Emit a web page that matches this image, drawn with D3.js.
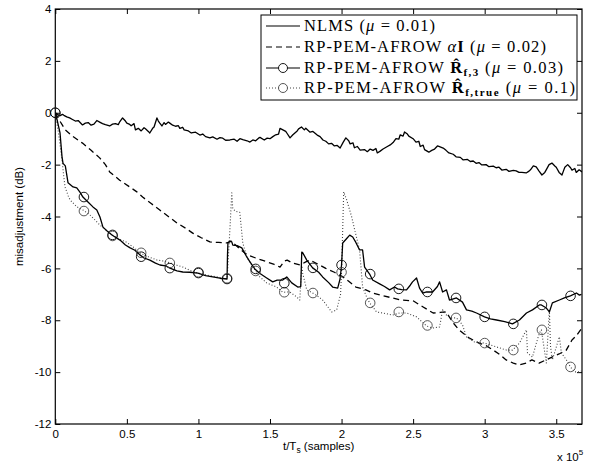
<!DOCTYPE html>
<html>
<head>
<meta charset="utf-8">
<script src="https://cdn.jsdelivr.net/npm/d3@7"></script>
<style>
  body { margin: 0; background: #fff; }
  text { fill: #000; }
</style>
</head>
<body>
<svg id="chart" width="592" height="464"></svg>
<script>
// values are in units of 1e5 samples (x) and dB (y)
const xTicks = [0, 0.5, 1, 1.5, 2, 2.5, 3, 3.5];
const yTicks = [-12, -10, -8, -6, -4, -2, 0, 2, 4];
const markerX = [0, 0.2, 0.4, 0.6, 0.8, 1.0, 1.2, 1.4, 1.6, 1.8, 2.0, 2.2, 2.4, 2.6, 2.8, 3.0, 3.2, 3.4, 3.6];

const nlms = [[0,0],[0.02,-0.08],[0.03,-0.12],[0.05,-0.06],[0.06,-0.1],[0.08,-0.16],[0.1,-0.2],[0.12,-0.26],[0.14,-0.32],[0.16,-0.3],[0.19,-0.47],[0.21,-0.4],[0.23,-0.38],[0.25,-0.48],[0.27,-0.44],[0.29,-0.3],[0.31,-0.36],[0.33,-0.42],[0.35,-0.46],[0.38,-0.51],[0.4,-0.44],[0.42,-0.42],[0.44,-0.46],[0.45,-0.35],[0.47,-0.2],[0.49,-0.32],[0.5,-0.4],[0.52,-0.45],[0.53,-0.5],[0.55,-0.42],[0.56,-0.66],[0.58,-0.6],[0.6,-0.7],[0.62,-0.58],[0.63,-0.62],[0.65,-0.72],[0.66,-0.78],[0.68,-0.6],[0.69,-0.55],[0.71,-0.2],[0.72,-0.32],[0.73,-0.4],[0.745,-0.51],[0.76,-0.38],[0.77,-0.45],[0.79,-0.36],[0.8,-0.4],[0.82,-0.48],[0.84,-0.52],[0.86,-0.5],[0.87,-0.6],[0.89,-0.56],[0.9,-0.66],[0.93,-0.7],[0.95,-0.78],[0.98,-0.75],[1.01,-0.86],[1.03,-0.82],[1.05,-0.92],[1.08,-0.97],[1.1,-0.93],[1.13,-1.02],[1.15,-0.96],[1.17,-0.98],[1.19,-1.06],[1.22,-1.05],[1.25,-1.02],[1.27,-1.1],[1.29,-1.0],[1.31,-1.04],[1.34,-1.08],[1.36,-1.13],[1.38,-1.05],[1.4,-1.08],[1.42,-0.98],[1.43,-0.95],[1.46,-1.05],[1.48,-0.98],[1.5,-1.0],[1.52,-0.92],[1.54,-0.85],[1.56,-0.82],[1.57,-0.6],[1.59,-0.66],[1.61,-0.72],[1.62,-0.8],[1.64,-0.97],[1.66,-0.85],[1.67,-0.8],[1.69,-0.7],[1.7,-0.62],[1.72,-0.55],[1.74,-0.66],[1.75,-0.6],[1.78,-0.75],[1.8,-0.72],[1.83,-0.86],[1.85,-0.92],[1.87,-1.05],[1.89,-1.1],[1.91,-1.2],[1.93,-1.18],[1.95,-1.28],[1.97,-1.26],[1.99,-1.36],[2.01,-1.15],[2.03,-0.97],[2.05,-1.08],[2.06,-1.2],[2.08,-1.16],[2.09,-1.35],[2.11,-1.3],[2.13,-1.44],[2.16,-1.42],[2.18,-1.5],[2.2,-1.4],[2.22,-1.45],[2.24,-1.38],[2.25,-1.55],[2.27,-1.48],[2.29,-1.4],[2.32,-1.3],[2.34,-1.24],[2.36,-1.15],[2.38,-1.0],[2.4,-1.02],[2.41,-0.85],[2.43,-0.9],[2.44,-0.74],[2.46,-0.82],[2.47,-0.9],[2.5,-1.0],[2.52,-1.13],[2.54,-1.1],[2.55,-1.3],[2.57,-1.25],[2.58,-1.42],[2.61,-1.52],[2.63,-1.45],[2.65,-1.4],[2.67,-1.28],[2.68,-1.3],[2.71,-1.36],[2.73,-1.45],[2.75,-1.55],[2.78,-1.6],[2.8,-1.7],[2.83,-1.72],[2.85,-1.82],[2.88,-1.8],[2.9,-1.88],[2.92,-1.86],[2.94,-1.95],[2.96,-1.92],[2.98,-2.01],[3.01,-2.0],[3.03,-2.08],[3.06,-2.06],[3.08,-2.12],[3.1,-2.1],[3.12,-2.21],[3.15,-2.18],[3.17,-2.26],[3.2,-2.22],[3.22,-2.24],[3.24,-2.3],[3.26,-2.3],[3.29,-2.32],[3.31,-2.25],[3.32,-2.2],[3.34,-2.05],[3.36,-2.09],[3.38,-2.25],[3.4,-2.4],[3.42,-2.3],[3.43,-2.2],[3.45,-2.0],[3.47,-1.94],[3.49,-2.05],[3.5,-2.1],[3.52,-2.3],[3.54,-2.4],[3.55,-2.25],[3.56,-2.1],[3.58,-2.0],[3.6,-2.12],[3.61,-2.21],[3.63,-2.15],[3.64,-2.3],[3.66,-2.2],[3.68,-2.28]];

const alphaI = [[0,0],[0.03,-0.3],[0.07,-0.66],[0.12,-0.9],[0.19,-1.17],[0.25,-1.45],[0.31,-1.74],[0.35,-2.0],[0.38,-2.28],[0.45,-2.6],[0.52,-2.86],[0.57,-3.05],[0.61,-3.25],[0.67,-3.5],[0.73,-3.75],[0.79,-4.0],[0.85,-4.25],[0.91,-4.45],[0.96,-4.64],[1.02,-4.82],[1.08,-4.98],[1.14,-5.0],[1.2,-5.02],[1.23,-4.95],[1.25,-5.05],[1.3,-5.3],[1.34,-5.48],[1.4,-5.6],[1.48,-5.75],[1.53,-5.85],[1.57,-5.95],[1.6,-5.72],[1.62,-5.68],[1.66,-5.8],[1.71,-5.87],[1.75,-5.75],[1.78,-5.68],[1.84,-5.85],[1.89,-6.0],[1.95,-6.15],[2.01,-6.33],[2.05,-6.5],[2.1,-6.72],[2.17,-6.83],[2.22,-6.95],[2.27,-7.03],[2.34,-7.12],[2.41,-7.22],[2.5,-7.25],[2.57,-7.49],[2.64,-7.72],[2.69,-7.7],[2.73,-7.68],[2.78,-8.1],[2.82,-8.37],[2.89,-8.68],[2.96,-8.88],[3.01,-8.98],[3.06,-9.15],[3.1,-9.3],[3.15,-9.53],[3.2,-9.65],[3.24,-9.72],[3.29,-9.65],[3.33,-9.53],[3.38,-9.65],[3.42,-9.55],[3.47,-9.42],[3.52,-9.3],[3.57,-9.15],[3.61,-8.76],[3.64,-8.6],[3.68,-8.3]];

const rf3 = [[0,0],[0.012,-0.26],[0.033,-0.78],[0.047,-1.7],[0.054,-1.95],[0.07,-2.05],[0.089,-2.7],[0.124,-2.86],[0.15,-2.9],[0.172,-3.06],[0.193,-3.25],[0.23,-3.45],[0.263,-3.63],[0.29,-3.75],[0.312,-4.02],[0.333,-4.41],[0.36,-4.55],[0.396,-4.71],[0.42,-4.8],[0.452,-4.91],[0.49,-5.1],[0.52,-5.2],[0.556,-5.3],[0.591,-5.48],[0.62,-5.6],[0.661,-5.68],[0.7,-5.8],[0.731,-5.87],[0.77,-5.9],[0.801,-5.99],[0.85,-6.1],[0.891,-6.14],[0.94,-6.15],[0.996,-6.18],[1.05,-6.28],[1.1,-6.33],[1.15,-6.38],[1.2,-6.41],[1.203,-5.5],[1.206,-5.02],[1.22,-4.95],[1.233,-4.98],[1.24,-5.1],[1.27,-5.12],[1.303,-5.21],[1.338,-5.56],[1.36,-5.75],[1.394,-6.02],[1.43,-6.2],[1.477,-6.37],[1.519,-6.52],[1.55,-6.45],[1.589,-6.45],[1.617,-6.33],[1.652,-6.56],[1.694,-6.72],[1.715,-6.7],[1.722,-5.37],[1.729,-5.4],[1.757,-5.68],[1.798,-5.98],[1.84,-6.15],[1.868,-6.33],[1.91,-6.55],[1.938,-6.72],[1.973,-6.76],[1.99,-6.4],[2.0,-5.87],[2.008,-5.02],[2.036,-4.85],[2.057,-4.72],[2.078,-4.79],[2.1,-5.0],[2.126,-5.29],[2.147,-5.29],[2.161,-5.95],[2.196,-6.22],[2.217,-6.45],[2.266,-6.6],[2.3,-6.7],[2.336,-6.83],[2.37,-6.72],[2.392,-6.79],[2.42,-6.82],[2.454,-6.83],[2.48,-6.65],[2.496,-6.52],[2.524,-6.37],[2.545,-6.76],[2.566,-6.95],[2.594,-6.91],[2.636,-6.91],[2.67,-6.7],[2.685,-6.52],[2.706,-6.91],[2.733,-6.83],[2.754,-7.22],[2.803,-7.14],[2.845,-7.3],[2.873,-7.6],[2.91,-7.65],[2.943,-7.72],[2.999,-7.87],[3.04,-7.95],[3.083,-7.99],[3.14,-8.05],[3.194,-8.14],[3.243,-7.99],[3.292,-7.72],[3.334,-7.6],[3.382,-7.41],[3.396,-7.41],[3.431,-7.53],[3.452,-7.68],[3.473,-7.33],[3.522,-7.22],[3.557,-7.14],[3.599,-7.06],[3.641,-6.95],[3.662,-7.03],[3.676,-7.0]];

const rfTrue = [[0,0],[0.02,-0.7],[0.035,-1.3],[0.047,-1.82],[0.06,-2.5],[0.068,-2.86],[0.09,-3.2],[0.103,-3.36],[0.151,-3.63],[0.193,-3.75],[0.242,-3.94],[0.28,-4.15],[0.312,-4.33],[0.36,-4.55],[0.396,-4.71],[0.44,-4.85],[0.5,-5.0],[0.55,-5.2],[0.591,-5.41],[0.65,-5.55],[0.71,-5.68],[0.76,-5.72],[0.801,-5.79],[0.85,-5.88],[0.891,-5.95],[0.95,-6.1],[0.996,-6.18],[1.05,-6.25],[1.1,-6.3],[1.15,-6.35],[1.2,-6.4],[1.206,-5.9],[1.22,-4.5],[1.233,-3.09],[1.24,-3.7],[1.26,-3.8],[1.289,-3.84],[1.31,-5.02],[1.338,-5.56],[1.37,-5.85],[1.394,-6.05],[1.429,-6.33],[1.477,-6.56],[1.547,-6.72],[1.589,-6.92],[1.638,-6.91],[1.687,-7.1],[1.708,-7.22],[1.722,-5.9],[1.729,-6.2],[1.757,-6.83],[1.798,-6.95],[1.84,-7.1],[1.868,-7.22],[1.931,-7.68],[1.966,-7.6],[1.993,-7.0],[2.0,-6.15],[2.015,-3.05],[2.036,-3.36],[2.071,-4.02],[2.092,-4.52],[2.126,-5.29],[2.147,-6.72],[2.175,-7.1],[2.196,-7.33],[2.245,-7.68],[2.287,-7.72],[2.357,-7.8],[2.405,-7.72],[2.454,-7.72],[2.524,-7.87],[2.594,-8.22],[2.636,-8.3],[2.685,-8.26],[2.706,-7.6],[2.733,-7.8],[2.768,-7.91],[2.803,-7.91],[2.845,-8.18],[2.873,-8.64],[2.929,-8.84],[2.999,-8.88],[3.083,-9.03],[3.152,-9.15],[3.194,-9.15],[3.243,-8.88],[3.292,-8.37],[3.299,-9.26],[3.334,-9.42],[3.36,-8.9],[3.382,-8.5],[3.396,-8.37],[3.431,-9.65],[3.452,-7.6],[3.46,-9.0],[3.473,-9.53],[3.522,-8.64],[3.536,-9.26],[3.571,-9.53],[3.599,-9.8],[3.627,-9.99],[3.662,-9.99],[3.68,-9.95]];

const rf3Markers = [0, -3.25, -4.71, -5.55, -5.99, -6.18, -6.41, -6.02, -6.57, -5.98, -5.87, -6.22, -6.79, -6.91, -7.14, -7.87, -8.14, -7.41, -7.06];
const rfTrueMarkers = [0, -3.79, -4.75, -5.4, -5.79, -6.15, -6.38, -6.1, -6.92, -6.95, -6.15, -7.33, -7.68, -8.2, -7.91, -8.88, -9.15, -8.37, -9.8];

const svg = d3.select('#chart');
const plot = {left: 55.3, right: 582, top: 9, bottom: 424};

const x = d3.scaleLinear().domain([0, 3.68]).range([plot.left, plot.right]);
const y = d3.scaleLinear().domain([-12, 4]).range([plot.bottom, plot.top]);

svg.append('defs').append('clipPath').attr('id', 'clip')
    .append('rect')
    .attr('x', plot.left).attr('y', plot.top)
    .attr('width', plot.right - plot.left).attr('height', plot.bottom - plot.top);

const tickFont = 'Liberation Sans, Arial, sans-serif';

// axes, ticks pointing inwards on all four sides
let gx = svg.append('g').attr('transform', 'translate(0,' + plot.bottom + ')')
    .call(d3.axisBottom(x).tickValues(xTicks).tickSize(-5).tickPadding(6).tickFormat(d3.format('')));
let gxTop = svg.append('g').attr('transform', 'translate(0,' + plot.top + ')')
    .call(d3.axisTop(x).tickValues(xTicks).tickSize(-5).tickFormat(''));
let gy = svg.append('g').attr('transform', 'translate(' + plot.left + ',0)')
    .call(d3.axisLeft(y).tickValues(yTicks).tickSize(-5).tickPadding(4).tickFormat(d => String(d)));
let gyRight = svg.append('g').attr('transform', 'translate(' + plot.right + ',0)')
    .call(d3.axisRight(y).tickValues(yTicks).tickSize(-5).tickFormat(''));

[gx, gxTop, gy, gyRight].forEach(g => {
    g.select('.domain').remove();
    g.selectAll('line').attr('stroke', '#000').attr('stroke-width', 1);
    g.selectAll('text').attr('font-family', tickFont).attr('font-size', 11.5).attr('fill', '#000');
});

svg.append('rect')
    .attr('x', plot.left).attr('y', plot.top)
    .attr('width', plot.right - plot.left).attr('height', plot.bottom - plot.top)
    .attr('fill', 'none').attr('stroke', '#000').attr('stroke-width', 1.2);

// labels
svg.append('text')
    .attr('transform', 'translate(23,' + ((plot.top + plot.bottom) / 2) + ') rotate(-90)')
    .attr('text-anchor', 'middle')
    .attr('font-family', tickFont).attr('font-size', 11.5)
    .text('misadjustment (dB)');

let xl = svg.append('text')
    .attr('x', (plot.left + plot.right) / 2).attr('y', 450)
    .attr('text-anchor', 'middle')
    .attr('font-family', tickFont).attr('font-size', 11.5);
xl.append('tspan').text('t/T');
xl.append('tspan').attr('font-size', 8.5).attr('dy', 3).text('s');
xl.append('tspan').attr('dy', -3).text(' (samples)');

let xe = svg.append('text')
    .attr('x', 557).attr('y', 461)
    .attr('font-family', tickFont).attr('font-size', 11.5);
xe.append('tspan').text('x 10');
xe.append('tspan').attr('font-size', 8).attr('dy', -6).text('5');

// curves
const line = d3.line().x(d => x(d[0])).y(d => y(d[1]));
const plotArea = svg.append('g').attr('clip-path', 'url(#clip)');

const series = [
    {data: nlms, dash: null, color: '#000', width: 1.3},
    {data: alphaI, dash: '6,4', color: '#000', width: 1.3},
    {data: rfTrue, dash: '1,2', color: '#444', width: 1.1, markers: rfTrueMarkers},
    {data: rf3, dash: null, color: '#000', width: 1.3, markers: rf3Markers}
];

series.forEach(s => {
    plotArea.append('path')
        .datum(s.data)
        .attr('d', line)
        .attr('fill', 'none')
        .attr('stroke', s.color)
        .attr('stroke-width', s.width)
        .attr('stroke-dasharray', s.dash)
        .attr('stroke-linejoin', 'round');
    if (s.markers) {
        svg.append('g').selectAll('circle')
            .data(markerX.map((mx, i) => [mx, s.markers[i]]))
            .join('circle')
            .attr('cx', d => x(d[0]))
            .attr('cy', d => y(d[1]))
            .attr('r', 4.8)
            .attr('fill', 'none')
            .attr('stroke', s.color)
            .attr('stroke-width', 0.9);
    }
});

// legend
const legend = svg.append('g');
legend.append('rect')
    .attr('x', 261).attr('y', 15).attr('width', 316).attr('height', 85)
    .attr('fill', '#fff').attr('stroke', '#000').attr('stroke-width', 1);

const serif = 'Liberation Serif, Times New Roman, serif';
const legendRows = [
    {dash: null, color: '#000', marker: false},
    {dash: '6,4', color: '#000', marker: false},
    {dash: null, color: '#000', marker: true},
    {dash: '1,2', color: '#444', marker: true}
];
const rowY = [26, 47, 68, 88];
const rowWidth = [131, 242, 259, 271];

legendRows.forEach((r, i) => {
    legend.append('line')
        .attr('x1', 266).attr('x2', 300)
        .attr('y1', rowY[i]).attr('y2', rowY[i])
        .attr('stroke', r.color).attr('stroke-width', 1.2)
        .attr('stroke-dasharray', r.dash);
    if (r.marker) {
        legend.append('circle')
            .attr('cx', 283).attr('cy', rowY[i]).attr('r', 4.5)
            .attr('fill', '#fff').attr('stroke', r.color).attr('stroke-width', 0.9);
    }
});

function legendText(i) {
    return legend.append('text')
        .attr('x', 304).attr('y', rowY[i] + 5)
        .attr('textLength', rowWidth[i])
        .attr('lengthAdjust', 'spacing')
        .attr('font-family', serif).attr('font-size', 16.5);
}

let t0 = legendText(0);
t0.append('tspan').text('NLMS (');
t0.append('tspan').attr('font-style', 'italic').text('\u03bc');
t0.append('tspan').text(' = 0.01)');

let t1 = legendText(1);
t1.append('tspan').text('RP-PEM-AFROW ');
t1.append('tspan').attr('font-style', 'italic').text('\u03b1');
t1.append('tspan').attr('font-weight', 'bold').text('I');
t1.append('tspan').text(' (');
t1.append('tspan').attr('font-style', 'italic').text('\u03bc');
t1.append('tspan').text(' = 0.02)');

let t2 = legendText(2);
t2.append('tspan').text('RP-PEM-AFROW ');
t2.append('tspan').attr('font-weight', 'bold').text('R\u0302');
t2.append('tspan').attr('font-weight', 'bold').attr('font-size', 11).attr('dy', 3).text('f,3');
t2.append('tspan').attr('dy', -3).text('  (');
t2.append('tspan').attr('font-style', 'italic').text('\u03bc');
t2.append('tspan').text(' = 0.03)');

let t3 = legendText(3);
t3.append('tspan').text('RP-PEM-AFROW ');
t3.append('tspan').attr('font-weight', 'bold').text('R\u0302');
t3.append('tspan').attr('font-weight', 'bold').attr('font-size', 11).attr('dy', 3).text('f,true');
t3.append('tspan').attr('dy', -3).text('  (');
t3.append('tspan').attr('font-style', 'italic').text('\u03bc');
t3.append('tspan').text(' = 0.1)');
</script>
</body>
</html>
